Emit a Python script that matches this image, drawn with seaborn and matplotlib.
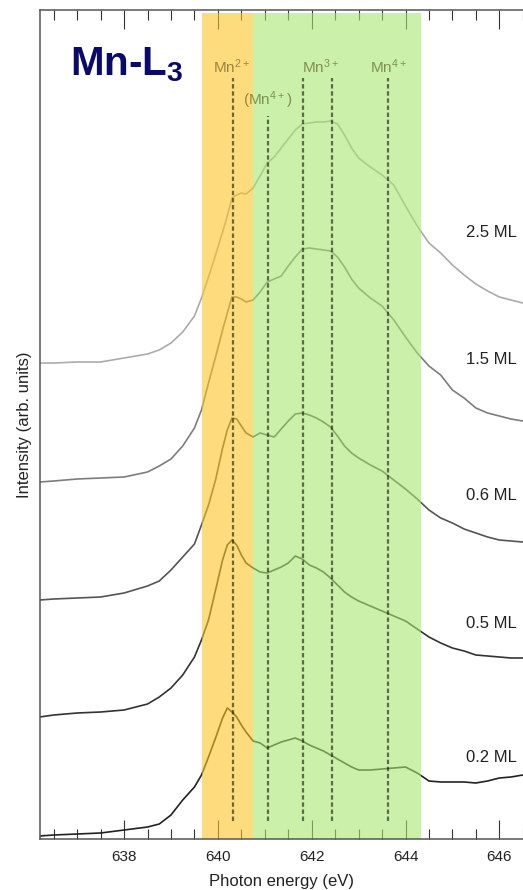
import numpy as np
import pandas as pd
import matplotlib
matplotlib.use("Agg")
import matplotlib.pyplot as plt
import seaborn as sns

# photon energy grid (eV) shared by all spectra
energy = [636.2, 636.5, 637.0, 637.5, 638.0, 638.5, 638.75, 639.0, 639.25, 639.5,
          639.65, 639.8, 639.95, 640.1, 640.2, 640.3, 640.4, 640.5, 640.6, 640.75,
          640.9, 641.05, 641.2, 641.35, 641.5, 641.65, 641.8, 641.95, 642.1, 642.25,
          642.4, 642.55, 642.7, 642.85, 643.0, 643.25, 643.5, 643.75, 644.0, 644.25,
          644.5, 644.75, 645.0, 645.25, 645.5, 645.75, 646.0, 646.25, 646.5]

# intensities (arb. units), vertical offsets included
ml_25 = [476, 476, 477, 477, 481, 485, 489, 496, 507, 523, 541, 562, 584, 607, 623, 641, 644,
         646, 645, 651, 663, 676, 682, 691, 700, 709, 715, 716, 717, 717, 718, 715, 704, 691,
         681, 672, 664, 654, 633, 613, 596, 586, 574, 564, 555, 548, 542, 539, 536]
ml_15 = [357, 358, 360, 361, 362, 367, 373, 380, 393, 411, 429, 456, 482, 509, 526, 542, 542,
         540, 537, 539, 547, 557, 560, 563, 573, 582, 590, 591, 590, 589, 588, 582, 572, 560,
         551, 541, 533, 519, 502, 486, 473, 464, 449, 441, 431, 426, 423, 420, 418]
ml_06 = [239, 240, 241, 242, 246, 253, 258, 269, 282, 295, 314, 334, 359, 391, 409, 421, 420,
         413, 406, 402, 406, 404, 402, 410, 418, 425, 426, 424, 421, 417, 412, 403, 393, 386,
         381, 374, 368, 359, 350, 340, 329, 321, 316, 310, 306, 302, 299, 298, 297]
ml_05 = [122, 124, 126, 127, 129, 135, 142, 151, 164, 182, 199, 219, 249, 279, 294, 299, 294,
         284, 276, 271, 267, 266, 269, 272, 276, 283, 280, 274, 271, 267, 261, 254, 247, 242,
         238, 233, 228, 223, 218, 210, 202, 196, 191, 188, 184, 183, 182, 181, 181]
ml_02 = [3, 4, 5, 6, 9, 12, 15, 24, 39, 52, 64, 82, 101, 121, 131, 127, 122, 114, 107, 98,
         96, 91, 94, 97, 99, 101, 98, 94, 91, 88, 84, 80, 76, 72, 69, 69, 70, 71, 72, 66,
         58, 57, 57, 57, 56, 58, 61, 62, 64]

coverages = ["2.5 ML", "1.5 ML", "0.6 ML", "0.5 ML", "0.2 ML"]
label_pos = [607, 479, 344, 216, 82]
curve_colors = ["#ababab", "#7d7d7d", "#555555", "#333333", "#222222"]

# reference energies of the Mn valence states
state_labels = ["Mn$^{2+}$", "(Mn$^{4+}$)", "Mn$^{3+}$", "Mn$^{4+}$"]
state_label_x = [640.30, 641.07, 642.18, 643.63]
state_label_y = [772, 739, 772, 772]
dash_x = [640.32, 641.07, 641.81, 642.44, 643.63]
dash_top = [761, 723, 761, 761, 761]

df = pd.DataFrame({
    "energy": energy * 5,
    "intensity": ml_25 + ml_15 + ml_06 + ml_05 + ml_02,
    "coverage": np.repeat(coverages, len(energy)),
})

sns.set_theme(style="white")
plt.rcParams["font.family"] = ["Liberation Sans", "DejaVu Sans"]
plt.rcParams["mathtext.default"] = "regular"

fig = plt.figure(figsize=(5.23, 8.9), dpi=100)
ax = fig.add_axes([40 / 523, 51 / 890, 483 / 523, 829 / 890])

sns.lineplot(data=df, x="energy", y="intensity", hue="coverage", hue_order=coverages,
             palette=curve_colors, estimator=None, sort=False, linewidth=1.2,
             legend=False, ax=ax, zorder=1)

# highlighted energy windows
ax.axvspan(639.66, 640.75, ymin=0, ymax=0.9964, color="#fdc526", alpha=0.6, lw=0, zorder=2)
ax.axvspan(640.75, 644.33, ymin=0, ymax=0.9964, color="#a7e671", alpha=0.6, lw=0, zorder=2)

ax.vlines(dash_x, 18, dash_top, colors="black", alpha=0.55, linewidth=1.6,
          linestyles=(0, (2, 1.2)), zorder=3)
for lab, x, y in zip(state_labels, state_label_x, state_label_y):
    ax.text(x, y, lab, ha="center", va="center", fontsize=11, color="#3a2e00",
            alpha=0.5, zorder=4)

for lab, y in zip(coverages, label_pos):
    ax.text(646.38, y, lab, ha="right", va="center", fontsize=12, color="#222222")

ax.text(0.062, 0.9216, "Mn-L$_3$", transform=ax.transAxes, fontsize=29,
        fontweight="bold", color="#0a0a6b", ha="left", va="baseline")

ax.set_xlim(636.207, 646.505)
ax.set_ylim(0, 829)
ax.set_xticks([638, 640, 642, 644, 646])
ax.set_xticks(np.arange(636.5, 646.6, 0.5), minor=True)
ax.set_yticks([])
ax.tick_params(axis="x", which="both", direction="in", top=True, bottom=True,
               colors="#333333", width=0.8, labelsize=11, pad=8)
ax.tick_params(axis="x", which="major", length=14)
ax.tick_params(axis="x", which="minor", length=7.5)
ax.tick_params(axis="x", labelcolor="#222222")

for side in ["left", "top", "bottom"]:
    ax.spines[side].set_visible(True)
    ax.spines[side].set_color("#555555")
    ax.spines[side].set_linewidth(1.1)
ax.spines["right"].set_visible(False)

ax.set_xlabel("Photon energy (eV)", fontsize=12, color="#222222", labelpad=7)
ax.set_ylabel("")
ax.text(-0.033, 0.5, "Intensity (arb. units)", transform=ax.transAxes, rotation=90,
        ha="center", va="center", fontsize=12, color="#222222")

fig.savefig("out.png", dpi=100)
